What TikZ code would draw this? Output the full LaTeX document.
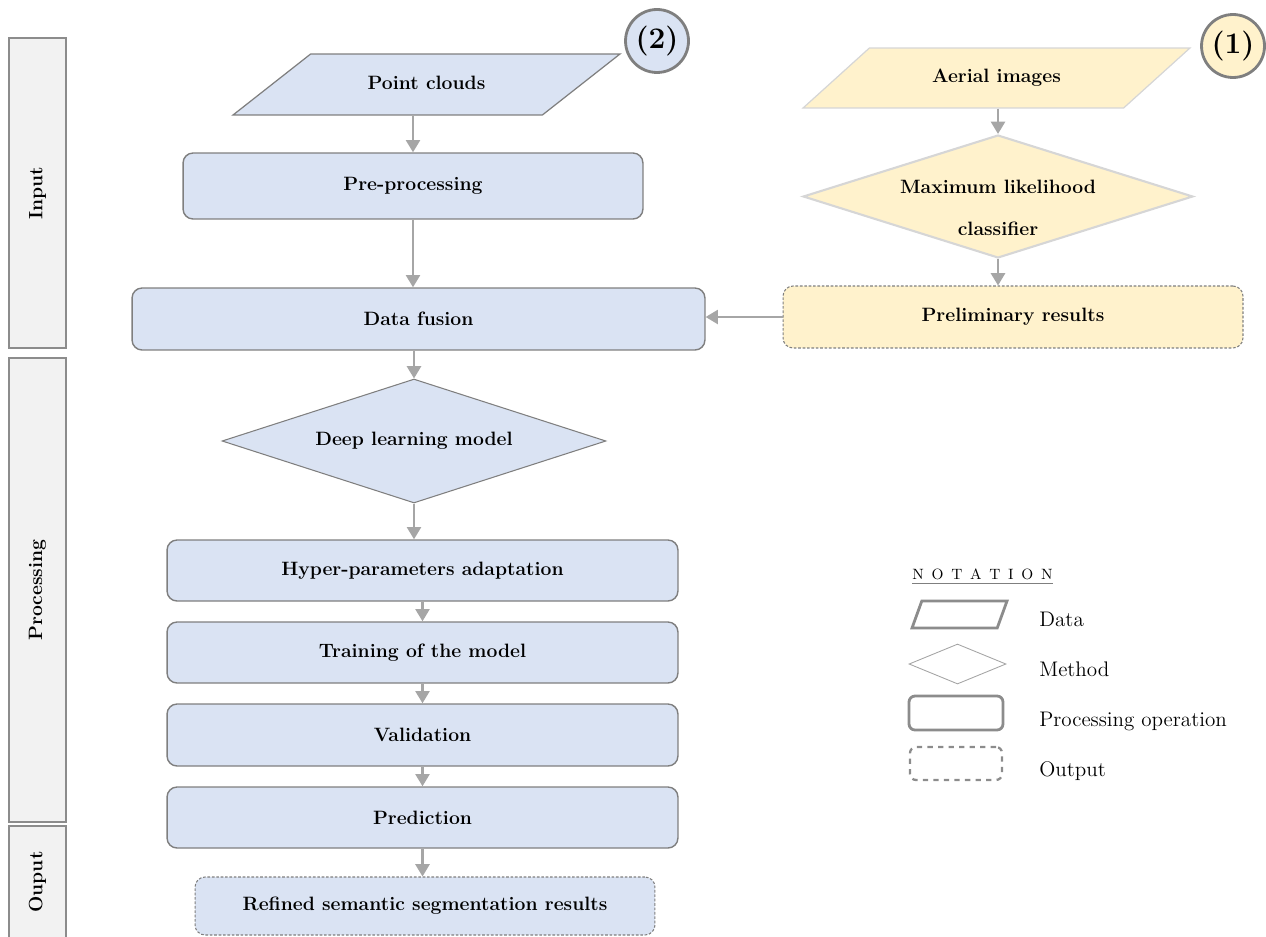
\documentclass[tikz,border=0pt]{standalone}
\usepackage{tikz}
\usetikzlibrary{shapes.geometric, arrows.meta}
\definecolor{boxblue}{HTML}{DAE3F3}
\definecolor{boxyellow}{HTML}{FFF2CC}
\definecolor{edgegray}{HTML}{7F7F7F}
\definecolor{arrowgray}{HTML}{A6A6A6}
\definecolor{bargray}{HTML}{F2F2F2}
\definecolor{bargrayedge}{HTML}{8C8C8C}
\definecolor{lightedge}{HTML}{D6D6D6}

\begin{document}
\begin{tikzpicture}[x=0.02cm, y=-0.02cm,
  font=\fontsize{11}{13}\selectfont\bfseries,
  proc/.style={draw=edgegray, line width=0.8pt, fill=boxblue, rounded corners=0.2cm, inner sep=0pt},
  outbox/.style={draw=edgegray, line width=0.6pt, dash pattern=on 1.5pt off 1pt, rounded corners=0.2cm, inner sep=0pt},
  data/.style={trapezium, trapezium stretches body, inner xsep=0pt, text height=8pt, text depth=2.5pt},
  method/.style={diamond, aspect=3, inner sep=0pt},
  sidebar/.style={draw=bargrayedge, line width=1.1pt, fill=bargray, rotate=90, minimum height=1.14cm, inner sep=0pt},
  badge/.style={circle, line width=1.6pt, draw=edgegray, minimum size=1.26cm, inner sep=0pt, font=\fontsize{17}{20}\selectfont\bfseries},
  arr/.style={draw=arrowgray, line width=1.4pt, -{Triangle[width=8pt,length=7pt]}},
  legend/.style={anchor=base west, inner sep=0pt, font=\fontsize{12}{14}\selectfont\normalfont}
]
  \useasboundingbox (0,0) rectangle (1266,936);

  % side bars
  \node[sidebar, minimum width=6.2cm] (input) at (37.5,193) {Input};
  \node[sidebar, minimum width=9.28cm] (processing) at (37.5,590) {Processing};
  \node[sidebar, minimum width=2.24cm] (ouput) at (37.5,882) {Ouput};

  % point cloud branch (2)
  \node[data, draw=edgegray, line width=0.7pt, fill=boxblue, trapezium left angle=38, trapezium right angle=142,
        inner ysep=12pt, minimum width=7.74cm, minimum height=1.22cm] (clouds) at (426.5,84.5) {Point clouds};
  \node[badge, fill=boxblue] (two) at (657,41) {(2)};
  \node[proc, minimum width=9.2cm, minimum height=1.32cm] (pre) at (413,186) {Pre-processing};
  \node[proc, minimum width=11.46cm, minimum height=1.24cm] (fusion) at (418.5,319) {Data fusion};
  \node[method, draw=edgegray, line width=0.6pt, fill=boxblue, minimum width=7.68cm, minimum height=2.48cm] (deep) at (414,441) {Deep learning model};
  \node[proc, minimum width=10.22cm, minimum height=1.22cm] (hyper) at (422.5,570.5) {Hyper-parameters adaptation};
  \node[proc, minimum width=10.22cm, minimum height=1.22cm] (train) at (422.5,652.5) {Training of the model};
  \node[proc, minimum width=10.22cm, minimum height=1.24cm] (valid) at (422.5,735) {Validation};
  \node[proc, minimum width=10.22cm, minimum height=1.22cm] (pred) at (422.5,817.5) {Prediction};
  \node[outbox, fill=boxblue, minimum width=9.2cm, minimum height=1.16cm] (refined) at (425,906) {Refined semantic segmentation results};

  % aerial image branch (1)
  \node[data, draw=lightedge, line width=0.7pt, fill=boxyellow, trapezium left angle=42, trapezium right angle=138,
        inner ysep=11.75pt, minimum width=7.74cm, minimum height=1.2cm] (aerial) at (996.5,78) {Aerial images};
  \node[badge, fill=boxyellow] (one) at (1233,46) {(1)};
  \node[method, draw=lightedge, line width=1.2pt, fill=boxyellow, minimum width=7.8cm, minimum height=2.46cm,
        label={[align=center, yshift=-0.22cm]center:Maximum likelihood\\[11pt]classifier}] (mlc) at (998,196.5) {};
  \node[outbox, fill=boxyellow, minimum width=9.2cm, minimum height=1.24cm] (prelim) at (1013,317) {Preliminary results};

  % arrows
  \draw[arr] (clouds.south -| pre.north) -- (pre.north);
  \draw[arr] (pre.south) -- (pre.south |- fusion.north);
  \draw[arr] (deep.north |- fusion.south) -- (deep.north);
  \draw[arr] (deep.south) -- (deep.south |- hyper.north);
  \draw[arr] (hyper) -- (train);
  \draw[arr] (train) -- (valid);
  \draw[arr] (valid) -- (pred);
  \draw[arr] (pred.south) -- (pred.south |- refined.north);
  \draw[arr] (mlc.north |- aerial.south) -- (mlc.north);
  \draw[arr] (mlc.south) -- (mlc.south |- prelim.north);
  \draw[arr] (prelim.west) -- (prelim.west -| fusion.east);

  % notation
  \node[anchor=west, font=\fontsize{8.5}{10}\selectfont\normalfont, inner sep=0pt] (notation) at (912,574)
        {\spaceskip=4.4pt N O T A T I O N};
  \draw[edgegray, line width=0.5pt] ([yshift=-2pt]notation.south west) -- ([yshift=-2pt]notation.south east);
  \node[data, draw=bargrayedge, line width=1.6pt, trapezium left angle=70, trapezium right angle=110,
        text height=0pt, text depth=0pt, inner ysep=7.65pt, minimum width=1.9cm, minimum height=0.54cm] (datakey) at (959.5,614.5) {};
  \node[method, draw=edgegray!70, line width=0.5pt, aspect=2.4, minimum width=1.94cm, minimum height=0.8cm] (methodkey) at (957.5,664) {};
  \node[draw=bargrayedge, line width=1.6pt, rounded corners=0.12cm, minimum width=1.88cm, minimum height=0.68cm] (prockey) at (956,713) {};
  \node[draw=bargrayedge, line width=1.3pt, dashed, rounded corners=0.12cm, minimum width=1.84cm, minimum height=0.66cm] (outkey) at (956,763.5) {};
  \node[legend] (datatxt) at (1039,626) {Data};
  \node[legend] (methodtxt) at (1039,676) {Method};
  \node[legend] (proctxt) at (1039,726) {Processing operation};
  \node[legend] (outtxt) at (1039,776) {Output};
\end{tikzpicture}
\end{document}
